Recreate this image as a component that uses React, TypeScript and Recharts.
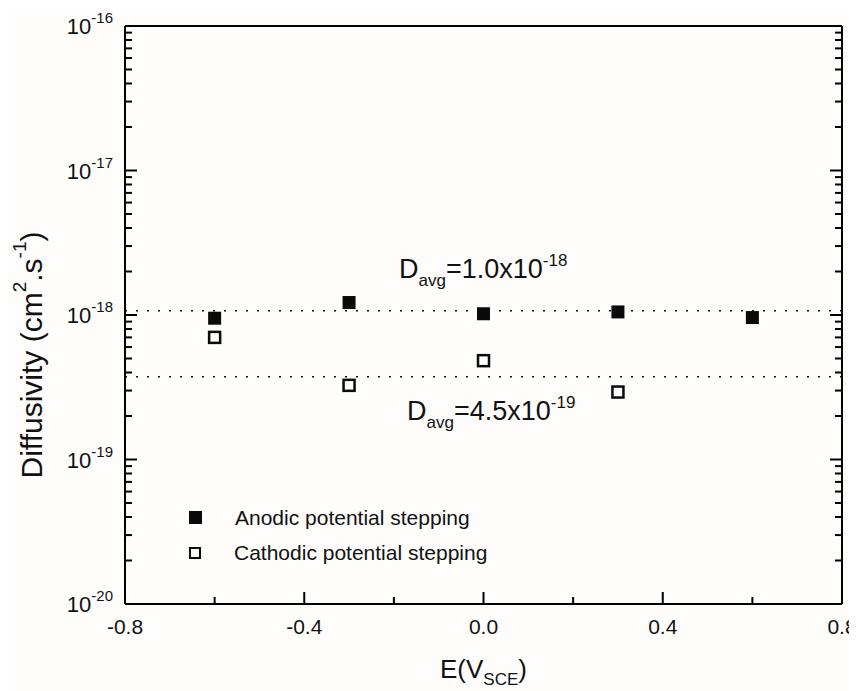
import React from "react";
import {
  ScatterChart,
  Scatter,
  XAxis,
  YAxis,
  ReferenceLine,
  Legend,
  Label,
} from "recharts";

const FONT = '"Liberation Sans", Arial, Helvetica, sans-serif';
const INK = "#111";

// E vs SCE (V)
const anodicE = [-0.6, -0.3, 0.0, 0.3, 0.6];
const anodicD = [9.5e-19, 1.22e-18, 1.02e-18, 1.05e-18, 9.6e-19];

const cathodicE = [-0.6, -0.3, 0.0, 0.3];
const cathodicD = [7.0e-19, 3.26e-19, 4.83e-19, 2.93e-19];

// dotted average lines (as drawn)
const avgAnodic = 1.07e-18;
const avgCathodic = 3.74e-19;

const xTicks = [-0.8, -0.6, -0.4, -0.2, 0, 0.2, 0.4, 0.6, 0.8];
const decades = [-20, -19, -18, -17, -16];

const yTicks: number[] = [];
decades.forEach((d) => {
  yTicks.push(Math.pow(10, d));
  if (d < -16) {
    for (let m = 2; m <= 9; m++) yTicks.push(m * Math.pow(10, d));
  }
});

const anodicData = anodicE.map((e, i) => ({ e, d: anodicD[i] }));
const cathodicData = cathodicE.map((e, i) => ({ e, d: cathodicD[i] }));

const isMajorX = (v: number) => Math.abs(v / 0.4 - Math.round(v / 0.4)) < 1e-6;
const isDecade = (v: number) =>
  Math.abs(Math.log10(v) - Math.round(Math.log10(v))) < 1e-6;

const BottomTick = (props: any) => {
  const { x, y, payload } = props;
  const v = payload.value;
  const major = isMajorX(v);
  return (
    <g>
      <line x1={x} x2={x} y1={y} y2={y - (major ? 12 : 7)} stroke="#000" strokeWidth={2} />
      {major && (
        <text x={x} y={y + 30} textAnchor="middle" fontSize={21} fontFamily={FONT} fill={INK}>
          {Math.abs(v) < 1e-9 ? "0.0" : v.toFixed(1)}
        </text>
      )}
    </g>
  );
};

const TopTick = (props: any) => {
  const { x, y, payload } = props;
  const major = isMajorX(payload.value);
  return <line x1={x} x2={x} y1={y} y2={y + (major ? 12 : 7)} stroke="#000" strokeWidth={2} />;
};

const LeftTick = (props: any) => {
  const { x, y, payload } = props;
  const v = payload.value;
  const major = isDecade(v);
  const exp = Math.round(Math.log10(v));
  return (
    <g>
      <line x1={x} x2={x + (major ? 12 : 7)} y1={y} y2={y} stroke="#000" strokeWidth={2} />
      {major && (
        <text x={x - 12} y={y + 8} textAnchor="end" fontSize={22} fontFamily={FONT} fill={INK}>
          <tspan>10</tspan>
          <tspan dy={-11} fontSize={15}>{exp}</tspan>
        </text>
      )}
    </g>
  );
};

const RightTick = (props: any) => {
  const { x, y, payload } = props;
  const major = isDecade(payload.value);
  return <line x1={x} x2={x - (major ? 12 : 7)} y1={y} y2={y} stroke="#000" strokeWidth={2} />;
};

const FilledSquare = (props: any) => {
  const { cx, cy } = props;
  return <rect x={cx - 6.5} y={cy - 6.5} width={13} height={13} fill="#0a0a0a" />;
};

const OpenSquare = (props: any) => {
  const { cx, cy } = props;
  return (
    <rect x={cx - 5.5} y={cy - 5.5} width={11} height={11} fill="#fff" stroke="#0a0a0a" strokeWidth={2.5} />
  );
};

const avgLabel = (text: string, exp: string, dx: number, dy: number) => (props: any) => {
  const { viewBox } = props;
  return (
    <text x={viewBox.x + dx} y={viewBox.y + dy} fontSize={27} fontFamily={FONT} fill={INK}>
      <tspan>D</tspan>
      <tspan dy={8} fontSize={17}>avg</tspan>
      <tspan dy={-8}>{text}</tspan>
      <tspan dy={-12} fontSize={17}>{exp}</tspan>
    </text>
  );
};

const LegendBox = () => (
  <div style={{ fontFamily: FONT, fontSize: 21, color: INK, lineHeight: "35px" }}>
    <div style={{ display: "flex", alignItems: "center" }}>
      <span style={{ display: "inline-block", width: 13, height: 13, background: "#0a0a0a", marginRight: 33 }} />
      <span>Anodic potential stepping</span>
    </div>
    <div style={{ display: "flex", alignItems: "center" }}>
      <span
        style={{
          display: "inline-block",
          width: 8,
          height: 8,
          border: "2.5px solid #0a0a0a",
          background: "#fff",
          marginRight: 33,
        }}
      />
      <span>Cathodic potential stepping</span>
    </div>
  </div>
);

export default function App() {
  return (
    <ScatterChart
      width={849}
      height={683}
      margin={{ top: 8, right: 5, bottom: 0, left: 0 }}
      style={{ background: "#fefdfc", overflow: "visible" }}
    >
      <XAxis
        xAxisId="b"
        dataKey="e"
        type="number"
        domain={[-0.8, 0.8]}
        ticks={xTicks}
        interval={0}
        allowDataOverflow
        height={87}
        tickSize={0}
        tickMargin={0}
        tick={<BottomTick />}
        axisLine={{ stroke: "#000", strokeWidth: 2 }}
      >
        <Label
          content={(p: any) => (
            <text
              x={p.viewBox.x + p.viewBox.width / 2}
              y={p.viewBox.y + 74}
              textAnchor="middle"
              fontSize={26}
              fontFamily={FONT}
              fill={INK}
            >
              <tspan>E(V</tspan>
              <tspan dy={7} fontSize={17}>SCE</tspan>
              <tspan dy={-7}>)</tspan>
            </text>
          )}
        />
      </XAxis>
      <XAxis
        xAxisId="t"
        orientation="top"
        type="number"
        domain={[-0.8, 0.8]}
        ticks={xTicks}
        interval={0}
        allowDataOverflow
        height={10}
        tickSize={0}
        tickMargin={0}
        tick={<TopTick />}
        axisLine={{ stroke: "#000", strokeWidth: 2 }}
      />
      <YAxis
        yAxisId="l"
        dataKey="d"
        type="number"
        scale="log"
        domain={[1e-20, 1e-16]}
        ticks={yTicks}
        interval={0}
        allowDataOverflow
        width={117}
        tickSize={0}
        tickMargin={0}
        tick={<LeftTick />}
        axisLine={{ stroke: "#000", strokeWidth: 2 }}
      >
        <Label
          content={() => (
            <text
              x={23}
              y={347}
              transform="rotate(-90, 23, 347)"
              textAnchor="middle"
              dominantBaseline="central"
              fontSize={30}
              fontFamily={FONT}
              fill={INK}
            >
              <tspan>Diffusivity (cm</tspan>
              <tspan dy={-12} fontSize={19}>2</tspan>
              <tspan dy={12}>.s</tspan>
              <tspan dy={-12} fontSize={19}>-1</tspan>
              <tspan dy={12}>)</tspan>
            </text>
          )}
        />
      </YAxis>
      <YAxis
        yAxisId="r"
        orientation="right"
        type="number"
        scale="log"
        domain={[1e-20, 1e-16]}
        ticks={yTicks}
        interval={0}
        allowDataOverflow
        width={10}
        tickSize={0}
        tickMargin={0}
        tick={<RightTick />}
        axisLine={{ stroke: "#000", strokeWidth: 2 }}
      />
      <ReferenceLine
        xAxisId="b"
        yAxisId="l"
        y={avgAnodic}
        stroke="#111"
        strokeWidth={1.5}
        strokeDasharray="2 9"
        label={avgLabel("=1.0x10", "-18", 274, -33)}
      />
      <ReferenceLine
        xAxisId="b"
        yAxisId="l"
        y={avgCathodic}
        stroke="#111"
        strokeWidth={1.5}
        strokeDasharray="2 9"
        label={avgLabel("=4.5x10", "-19", 282, 43)}
      />
      <Scatter
        name="Anodic potential stepping"
        xAxisId="b"
        yAxisId="l"
        data={anodicData}
        shape={<FilledSquare />}
        isAnimationActive={false}
      />
      <Scatter
        name="Cathodic potential stepping"
        xAxisId="b"
        yAxisId="l"
        data={cathodicData}
        shape={<OpenSquare />}
        isAnimationActive={false}
      />
      <Legend
        layout="vertical"
        align="center"
        verticalAlign="middle"
        content={<LegendBox />}
        wrapperStyle={{ left: 181, top: 492, width: 420 }}
      />
    </ScatterChart>
  );
}
